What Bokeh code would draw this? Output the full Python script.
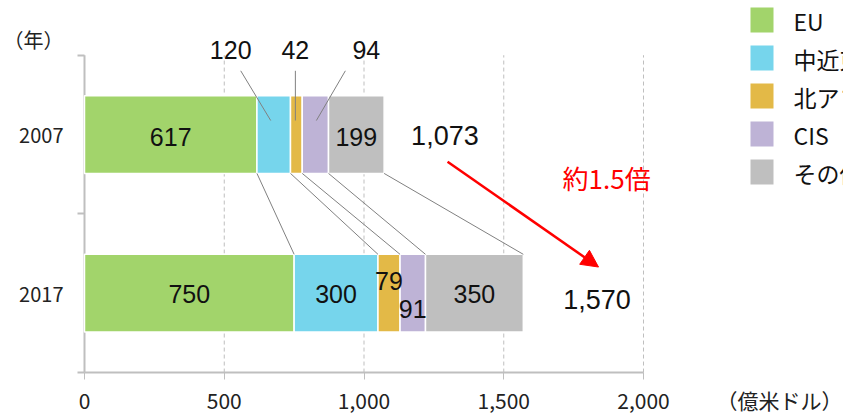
from bokeh.plotting import figure
from bokeh.models import (Range1d, FixedTicker, NumeralTickFormatter, Arrow,
                          NormalHead, ColumnDataSource)
from bokeh.core.properties import value
from bokeh.embed import file_html
from bokeh.resources import INLINE

# Exports by destination region (100 million USD)
years = ["2007", "2017"]
regions = ["EU", "中近東", "北アフリカ", "CIS", "その他"]
colors = ["#A2D46B", "#76D5EC", "#E3B947", "#BEB3D6", "#BFBFBF"]
exports_2007 = [617, 120, 42, 94, 199]
exports_2017 = [750, 300, 79, 91, 350]
totals = [1073, 1570]
growth_label = "約1.5倍"
x_ticks = [0, 500, 1000, 1500, 2000]
x_unit = "（億米ドル）"
y_unit = "（年）"

JP = "Noto Sans CJK JP"
NUM = "Liberation Sans"
GRAY = "#BFBFBF"

W, H = 843, 417
FRAME_L, FRAME_B = 77, 36      # side panels holding the axis labels
ORIGIN_X, ORIGIN_Y = 84, 374   # canvas pixel of the (0, 0) corner
PX_X = 559 / 2000.0            # pixels per unit on the value axis
PX_Y = 319 / 2.0               # pixels per category band
BAR_H = 0.49

p = figure(width=W, height=H, output_backend="svg", toolbar_location=None,
           x_range=Range1d(-(ORIGIN_X - FRAME_L) / PX_X, (W - ORIGIN_X) / PX_X),
           y_range=Range1d(-(H - FRAME_B - ORIGIN_Y) / PX_Y, ORIGIN_Y / PX_Y),
           min_border_left=FRAME_L, min_border_right=0,
           min_border_top=0, min_border_bottom=FRAME_B)
p.outline_line_color = None
p.xgrid.visible = False
p.ygrid.visible = False

# value axis: tick labels plus the unit as a trailing label
unit_x = 2487
xa = p.xaxis[0]
xa.ticker = FixedTicker(ticks=x_ticks + [unit_x], minor_ticks=x_ticks)
xa.formatter = NumeralTickFormatter(format="0,0")
xa.major_label_overrides = {unit_x: x_unit}
xa.axis_line_color = None
xa.major_tick_line_color = None
xa.major_tick_out = 0
xa.major_tick_in = 0
xa.minor_tick_in = 7
xa.minor_tick_out = 0
xa.minor_tick_line_color = GRAY
xa.minor_tick_line_width = 1
xa.major_label_text_font = JP
xa.major_label_text_font_size = "21px"
xa.major_label_text_color = "#222222"
xa.major_label_standoff = 5

# category axis: year labels in band centres, ticks on band edges
y_pos = [1.5, 0.5]
unit_y = 2.1
ya = p.yaxis[0]
ya.ticker = FixedTicker(ticks=y_pos + [unit_y], minor_ticks=[0, 1, 2])
overrides = {y: lab for y, lab in zip(y_pos, years)}
overrides[unit_y] = y_unit
ya.major_label_overrides = overrides
ya.axis_line_color = None
ya.major_tick_line_color = None
ya.major_tick_out = 0
ya.major_tick_in = 0
ya.minor_tick_in = 7
ya.minor_tick_out = 0
ya.minor_tick_line_color = GRAY
ya.minor_tick_line_width = 2
ya.major_label_text_font = JP
ya.major_label_text_font_size = "20px"
ya.major_label_text_color = "#222222"
ya.major_label_standoff = 14
ya.major_label_orientation = "horizontal"

# dashed vertical gridlines
p.segment(x0=x_ticks[1:], y0=[0] * 4, x1=x_ticks[1:], y1=[2] * 4,
          line_color=GRAY, line_width=1, line_dash="4 3")
# axis lines
p.segment(x0=[0, 0], y0=[0, 0], x1=[0, x_ticks[-1]], y1=[2, 0],
          line_color=GRAY, line_width=2)

# stacked bars
def stack(vals):
    lefts, rights, acc = [], [], 0
    for v in vals:
        lefts.append(acc)
        acc += v
        rights.append(acc)
    return lefts, rights

series = [exports_2007, exports_2017]
bars = dict(y=[], left=[], right=[], color=[])
cums = []
for y, vals in zip(y_pos, series):
    l, r = stack(vals)
    cums.append(r)
    bars["y"] += [y] * len(vals)
    bars["left"] += l
    bars["right"] += r
    bars["color"] += colors
p.hbar(y="y", left="left", right="right", height=BAR_H, fill_color="color",
       line_color="white", line_width=1.5, source=ColumnDataSource(bars))

# connectors between segment edges of the two bars
p.segment(x0=cums[0], y0=[y_pos[0] - BAR_H / 2] * 5,
          x1=cums[1], y1=[y_pos[1] + BAR_H / 2] * 5,
          line_color="#808080", line_width=1)

# in-bar value labels
lab = dict(x=[], y=[], t=[], dy=[])
l07, r07 = stack(exports_2007)
for i in (0, 4):
    lab["x"].append((l07[i] + r07[i]) / 2); lab["y"].append(y_pos[0])
    lab["t"].append(str(exports_2007[i])); lab["dy"].append(2)
l17, r17 = stack(exports_2017)
dy17 = [1, 1, -12, 16, 1]
for i in range(5):
    lab["x"].append((l17[i] + r17[i]) / 2); lab["y"].append(y_pos[1])
    lab["t"].append(str(exports_2017[i])); lab["dy"].append(dy17[i])
p.text(x="x", y="y", text="t", y_offset="dy", source=ColumnDataSource(lab),
       text_align="center", text_baseline="middle", text_color="#111111",
       text_font=value(NUM), text_font_size="25px")

# callouts for the narrow 2007 segments
bar_top = y_pos[0] + BAR_H / 2
call_idx = [1, 2, 3]
label_dx = [-43, -1, 51]
lead_bot_dx = [-3, -1, 1]
lead_top_dx = [-33, -1, 30]
centres = [(l07[i] + r07[i]) / 2 for i in call_idx]
p.segment(x0=[c + d / PX_X for c, d in zip(centres, lead_bot_dx)],
          y0=[bar_top - 25 / PX_Y] * 3,
          x1=[c + d / PX_X for c, d in zip(centres, lead_top_dx)],
          y1=[bar_top + 25 / PX_Y] * 3,
          line_color="#808080", line_width=1)
p.text(x=[c + d / PX_X for c, d in zip(centres, label_dx)],
       y=[bar_top + 46 / PX_Y] * 3,
       text=[str(exports_2007[i]) for i in call_idx],
       text_align="center", text_baseline="middle", text_color="#111111",
       text_font=value(NUM), text_font_size="25px")

# totals
p.text(x=[cums[0][-1], cums[1][-1]], y=y_pos, x_offset=[27, 40], y_offset=[1, 6],
       text=[f"{t:,}" for t in totals], text_align="left", text_baseline="middle",
       text_color="#111111", text_font=value(NUM), text_font_size="27px")

# growth arrow
p.add_layout(Arrow(x_start=1299, y_start=1.329, x_end=1839, y_end=0.665,
                   line_color="#FF0000", line_width=2.5,
                   end=NormalHead(size=17, fill_color="#FF0000",
                                  line_color="#FF0000", line_width=1)))
p.text(x=[1868], y=[1.229], text=[growth_label], text_align="center",
       text_baseline="middle", text_color="#FF0000",
       text_font=value(JP), text_font_size="26px")

# legend
leg_x = (761.5 - ORIGIN_X) / PX_X
leg_y0 = (ORIGIN_Y - 19.5) / PX_Y
leg_step = 38.2 / PX_Y
leg_ys = [leg_y0 - k * leg_step for k in range(len(regions))]
p.rect(x=[leg_x] * 5, y=leg_ys, width=23, height=25, width_units="screen",
       height_units="screen", fill_color=colors, line_color=None)
p.text(x=[(793 - ORIGIN_X) / PX_X] * 5, y=leg_ys, text=regions, text_align="left",
       text_baseline="middle", text_color="#111111", y_offset=1,
       text_font=value(JP), text_font_size="23px")

open("out.html", "w").write(file_html(p, INLINE))
